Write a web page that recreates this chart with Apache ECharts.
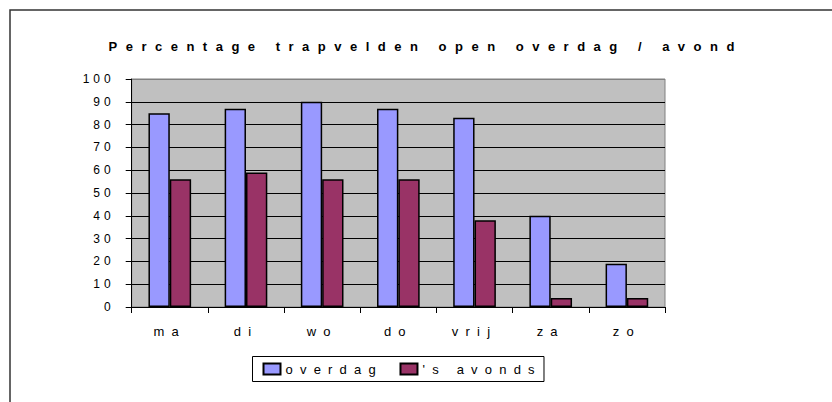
<!DOCTYPE html>
<html>
<head>
<meta charset="utf-8">
<script src="https://cdn.jsdelivr.net/npm/echarts@6/dist/echarts.min.js"></script>
<style>
  html, body { margin: 0; padding: 0; background: #fff; }
  #chart { width: 832px; height: 402px; }
  #chart text[style*="13px"] { letter-spacing: 7.2px; }
  #chart text[style*="bold"] { letter-spacing: 8.5px; }
  #chart text[style*="12px"] { letter-spacing: 4px; }
</style>
</head>
<body>
<div id="chart"></div>
<script>
const titleText = 'Percentage trapvelden open overdag / avond';
const categories = ['ma', 'di', 'wo', 'do', 'vrij', 'za', 'zo'];
const seriesNames = ['overdag', "'s avonds"];
const overdag = [85, 87, 90, 87, 83, 40, 19];
const avonds = [56, 59, 56, 56, 38, 4, 4];
const yMin = 0, yMax = 100, yStep = 10;

const FONT = 'Liberation Sans';
const chart = echarts.init(document.getElementById('chart'), null, { renderer: 'svg', width: 832, height: 402 });

const gridLineColors = [];
for (let v = yMin; v <= yMax; v += yStep) gridLineColors.push(v === yMax ? '#808080' : '#000000');

chart.setOption({
  animation: false,
  backgroundColor: '#ffffff',
  graphic: [{
    type: 'rect',
    shape: { x: 10, y: 10, width: 1000, height: 1000 },
    style: { fill: 'none', stroke: '#333333', lineWidth: 1.5 },
    silent: true, z: -1
  }],
  title: {
    text: titleText,
    left: 420.7,
    top: 34.5,
    textAlign: 'center',
    textStyle: { fontFamily: FONT, fontSize: 13, fontWeight: 'bold', color: '#000' }
  },
  legend: {
    data: seriesNames,
    left: 252.5,
    top: 356.5,
    orient: 'horizontal',
    itemWidth: 17,
    itemHeight: 11,
    itemGap: 67,
    padding: [6, 67, 6, 10],
    borderColor: '#000',
    borderWidth: 1,
    icon: 'rect',
    textStyle: { fontFamily: FONT, fontSize: 13, color: '#000' }
  },
  grid: {
    left: 131.7,
    right: 167,
    top: 79,
    bottom: 95,
    show: true,
    backgroundColor: '#C0C0C0',
    borderColor: '#808080',
    borderWidth: 1,
    containLabel: false
  },
  xAxis: {
    type: 'category',
    data: categories,
    boundaryGap: true,
    axisLine: { lineStyle: { color: '#000', width: 1 } },
    axisTick: { show: true, length: 6, alignWithLabel: false, lineStyle: { color: '#000' } },
    axisLabel: { fontFamily: FONT, fontSize: 13, color: '#000', margin: 18 },
    splitLine: { show: false }
  },
  yAxis: {
    type: 'value',
    min: yMin,
    max: yMax,
    interval: yStep,
    axisLine: { show: true, lineStyle: { color: '#000', width: 1 } },
    axisTick: { show: true, length: 6, lineStyle: { color: '#000' } },
    axisLabel: { fontFamily: FONT, fontSize: 12, color: '#000', margin: 17 },
    splitLine: { show: true, lineStyle: { color: gridLineColors, width: 1 } }
  },
  series: [
    {
      name: seriesNames[0],
      type: 'bar',
      data: overdag,
      barWidth: '28%',
      barGap: '0%',
      itemStyle: { color: '#9999FF', borderColor: '#000', borderWidth: 1.5 }
    },
    {
      name: seriesNames[1],
      type: 'bar',
      data: avonds,
      barWidth: '28%',
      barGap: '0%',
      itemStyle: { color: '#993366', borderColor: '#000', borderWidth: 1.5 }
    }
  ]
});
</script>
</body>
</html>
